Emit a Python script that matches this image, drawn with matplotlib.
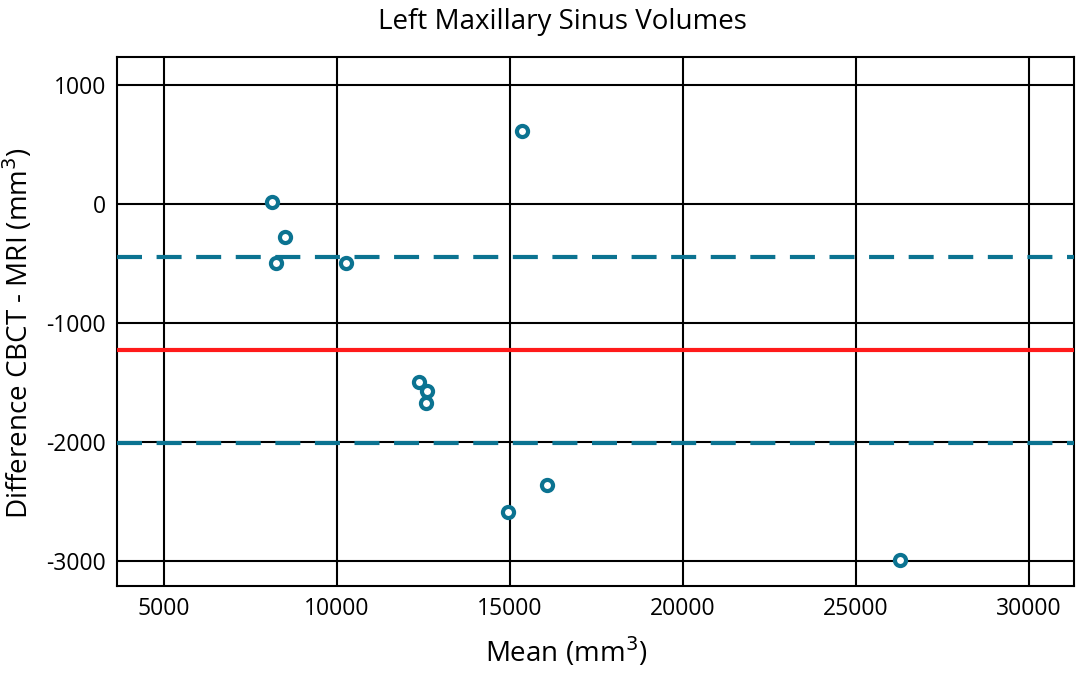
import numpy as np
import matplotlib
matplotlib.use("Agg")
import matplotlib.pyplot as plt

plt.rcParams['font.family'] = ['Open Sans', 'DejaVu Sans']
plt.rcParams['axes.unicode_minus'] = False

mean_vol = [8121, 8497, 8237, 10260, 15347, 12370, 12601, 12572, 14942, 16069, 26272]
diff_vol = [17, -277, -496, -496, 613, -1496, -1571, -1672, -2588, -2361, -2990]
bias = -1227
loa_upper = -445
loa_lower = -2010

xticks = [5000, 10000, 15000, 20000, 25000, 30000]
yticks = [1000, 0, -1000, -2000, -3000]

teal = "#0b7391"

fig = plt.figure(figsize=(10.77, 6.74), dpi=100)
ax = fig.add_axes([0.1086, 0.1306, 0.8886, 0.7848])

ax.set_xlim(3640, 31300)
ax.set_ylim(-3210, 1235)
ax.set_xticks(xticks)
ax.set_yticks(yticks)
ax.grid(True, color="black", linewidth=1.5)
ax.set_axisbelow(True)
ax.tick_params(length=0, labelsize=16.5, pad=8)
for s in ax.spines.values():
    s.set_linewidth(1.5)

ax.axhline(bias, color="#ff1a1a", linewidth=3, zorder=3)
ax.axhline(loa_upper, color=teal, linewidth=3, linestyle=(0, (6, 3.5)), zorder=3)
ax.axhline(loa_lower, color=teal, linewidth=3, linestyle=(0, (6, 3.5)), zorder=3)

ax.plot(mean_vol, diff_vol, "o", markersize=8, markerfacecolor="white",
        markeredgecolor=teal, markeredgewidth=3, zorder=4, linestyle="none")

ax.set_xlabel("Mean (mm$^3$)", fontsize=20, labelpad=10)
ax.set_ylabel("Difference CBCT - MRI (mm$^3$)", fontsize=20, labelpad=8)
ax.xaxis.label.set_x(0.469)
ax.yaxis.label.set_y(0.478)
ax.set_title("Left Maxillary Sinus Volumes", fontsize=20, pad=20, x=0.466)

fig.savefig("out.png", dpi=100)
